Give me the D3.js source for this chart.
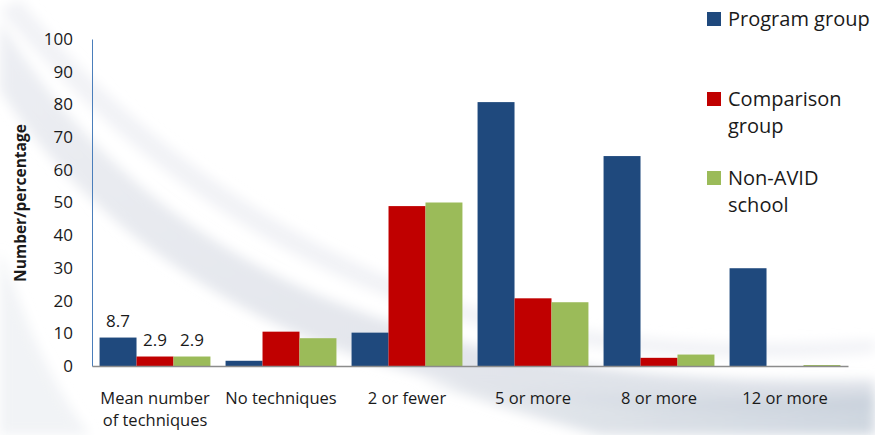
<!DOCTYPE html>
<html>
<head>
<meta charset="utf-8">
<script src="https://cdn.jsdelivr.net/npm/d3@7"></script>
<style>
  html, body { margin: 0; padding: 0; background: #ffffff; }
  svg { display: block; }
  text { font-family: "Open Sans", "Noto Sans", sans-serif; fill: #1a1a1a; }
</style>
</head>
<body>
<svg id="chart" width="875" height="435"></svg>
<script>
// Categories along the x axis (multi-line labels split with "\n")
const categories = ["Mean number\nof techniques", "No techniques", "2 or fewer", "5 or more", "8 or more", "12 or more"];
// Series names and colours
const seriesNames = ["Program group", "Comparison group", "Non-AVID school"];
const legendLines = [["Program group"], ["Comparison", "group"], ["Non-AVID", "school"]];
const seriesColors = ["#1f497d", "#c00000", "#9bbb59"];
// Values per series, one per category
const programValues = [8.7, 1.6, 10.2, 80.7, 64.2, 29.9];
const comparisonValues = [2.9, 10.5, 48.9, 20.7, 2.5, 0];
const nonAvidValues = [2.9, 8.5, 50.0, 19.5, 3.5, 0.3];
// Y axis ticks
const yTicks = [0, 10, 20, 30, 40, 50, 60, 70, 80, 90, 100];
// Value labels are shown only for the first category
const labelledCategory = 0;

const series = [programValues, comparisonValues, nonAvidValues];

const svg = d3.select("#chart");
const plot = { left: 92, right: 848, top: 39, bottom: 366 };

// Decorative background swooshes
const defs = svg.append("defs");
const blur = defs.append("filter").attr("id", "soft").attr("x", "-20%").attr("y", "-20%").attr("width", "140%").attr("height", "140%");
blur.append("feGaussianBlur").attr("stdDeviation", 6);
const g1 = defs.append("linearGradient").attr("id", "sw1").attr("x1", "0").attr("y1", "0").attr("x2", "1").attr("y2", "1");
g1.append("stop").attr("offset", "0").attr("stop-color", "#eaecf1");
g1.append("stop").attr("offset", "0.6").attr("stop-color", "#e0e3ea");
g1.append("stop").attr("offset", "1").attr("stop-color", "#d5dae3");
const g2 = defs.append("linearGradient").attr("id", "sw2").attr("x1", "0").attr("y1", "0").attr("x2", "1").attr("y2", "0");
g2.append("stop").attr("offset", "0").attr("stop-color", "#e4e7ec");
g2.append("stop").attr("offset", "1").attr("stop-color", "#c6cfda");

const bg = svg.append("g").attr("filter", "url(#soft)");
bg.append("path")
  .attr("d", "M0,20 C60,120 160,230 330,300 C480,360 650,385 875,380 L875,410 C640,420 460,400 300,335 C150,270 50,170 0,90 Z")
  .attr("fill", "url(#sw1)").attr("opacity", 0.85);
bg.append("path")
  .attr("d", "M20,0 C110,110 240,220 420,290 C560,340 720,350 875,340 L875,352 C720,365 560,355 410,305 C230,240 100,130 0,10 Z")
  .attr("fill", "#eceef3").attr("opacity", 0.75);
bg.append("path")
  .attr("d", "M420,380 C560,395 720,400 875,395 L875,435 L600,435 C540,420 480,400 420,380 Z")
  .attr("fill", "url(#sw2)").attr("opacity", 0.85);
bg.append("path")
  .attr("d", "M0,250 C20,300 40,370 90,435 L0,435 Z")
  .attr("fill", "#eef0f4").attr("opacity", 0.8);

// Scales
const x0 = d3.scaleBand().domain(d3.range(categories.length)).range([plot.left, plot.right]).paddingInner(0.12).paddingOuter(0.06);
const x1 = d3.scaleBand().domain(d3.range(series.length)).range([0, x0.bandwidth()]);
const y = d3.scaleLinear().domain([0, 100]).range([plot.bottom, plot.top]);

// Bars
const groups = svg.append("g").selectAll("g")
  .data(categories.map((c, i) => i))
  .join("g")
  .attr("transform", i => `translate(${x0(i)},0)`);

groups.selectAll("rect")
  .data(i => series.map((s, k) => ({ k, v: s[i] })))
  .join("rect")
  .attr("x", d => x1(d.k))
  .attr("y", d => y(d.v))
  .attr("width", x1.bandwidth())
  .attr("height", d => y(0) - y(d.v))
  .attr("fill", d => seriesColors[d.k]);

// Value labels for the first category
svg.append("g").selectAll("text")
  .data(series.map((s, k) => ({ k, v: s[labelledCategory] })))
  .join("text")
  .attr("x", d => x0(labelledCategory) + x1(d.k) + x1.bandwidth() / 2)
  .attr("y", d => y(d.v) - 11)
  .attr("text-anchor", "middle")
  .attr("font-size", 17)
  .text(d => d.v.toFixed(1));

// Y axis
const yAxis = svg.append("g").attr("transform", `translate(${plot.left},0)`)
  .call(d3.axisLeft(y).tickValues(yTicks).tickSize(0).tickPadding(19));
yAxis.select(".domain").attr("stroke", "#4a7ebb").attr("stroke-width", 1);
yAxis.selectAll("text").attr("font-size", 17).attr("fill", "#1a1a1a")
  .style("font-family", "'Open Sans', 'Noto Sans', sans-serif");

// X baseline
const xAxis = svg.append("g").attr("transform", `translate(0,${plot.bottom})`)
  .call(d3.axisBottom(x0).tickSize(0).tickFormat(() => ""));
xAxis.select(".domain").attr("stroke", "#8c8c8c").attr("stroke-width", 1.5);

// Category labels
svg.append("g").selectAll("text")
  .data(categories.map((c, i) => ({ i, lines: c.split("\n") })))
  .join("text")
  .attr("x", d => x0(d.i) + x0.bandwidth() / 2)
  .attr("y", 404)
  .attr("text-anchor", "middle")
  .attr("font-size", 16.5)
  .selectAll("tspan")
  .data(d => d.lines.map((l, j) => ({ l, j, x: x0(d.i) + x0.bandwidth() / 2 })))
  .join("tspan")
  .attr("x", d => d.x)
  .attr("dy", d => d.j === 0 ? 0 : 22)
  .text(d => d.l);

// Y axis title
svg.append("text")
  .attr("transform", "translate(26,203) rotate(-90)")
  .attr("text-anchor", "middle")
  .attr("font-size", 15.5)
  .attr("font-weight", "bold")
  .text("Number/percentage");

// Legend
const legendY = [26, 106, 185];
const legend = svg.append("g").selectAll("g")
  .data(seriesNames.map((n, k) => ({ k, lines: legendLines[k] })))
  .join("g")
  .attr("transform", d => `translate(707,${legendY[d.k]})`);
legend.append("rect")
  .attr("x", 0).attr("y", -14).attr("width", 14).attr("height", 14)
  .attr("fill", d => seriesColors[d.k]);
legend.append("text")
  .attr("x", 21).attr("y", 0)
  .attr("font-size", 20)
  .selectAll("tspan")
  .data(d => d.lines.map((l, j) => ({ l, j })))
  .join("tspan")
  .attr("x", 21)
  .attr("dy", d => d.j === 0 ? 0 : 27)
  .text(d => d.l);
</script>
</body>
</html>
